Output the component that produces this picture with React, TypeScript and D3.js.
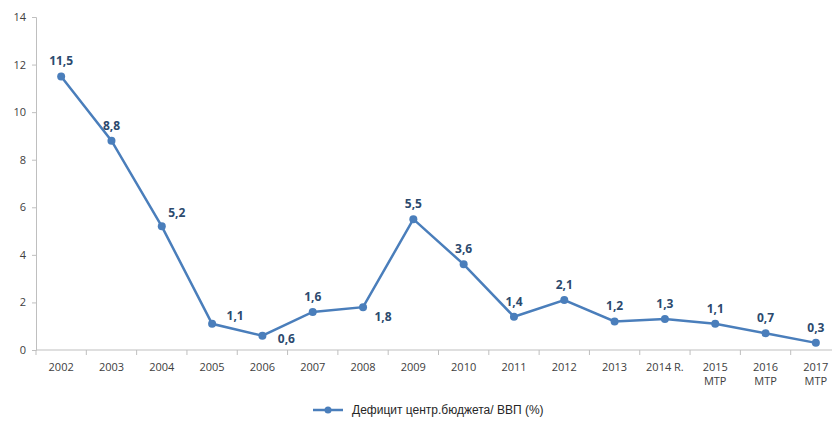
import React, { useEffect, useRef } from 'react';
import * as d3 from 'd3';

const years = ['2002', '2003', '2004', '2005', '2006', '2007', '2008', '2009', '2010', '2011', '2012', '2013', '2014 R.', '2015\nМТР', '2016\nМТР', '2017\nМТР'];
const deficit = [11.5, 8.8, 5.2, 1.1, 0.6, 1.6, 1.8, 5.5, 3.6, 1.4, 2.1, 1.2, 1.3, 1.1, 0.7, 0.3];
// where each data label sits relative to its point
const labelPos = ['top', 'top', 'topright', 'right', 'lowright', 'top', 'bottomright', 'top', 'top', 'top', 'top', 'top', 'top', 'top', 'top', 'top'];
const yTicks = [0, 2, 4, 6, 8, 10, 12, 14];
const seriesName = 'Дефицит центр.бюджета/ ВВП (%)';

const offsets: Record<string, [number, number]> = {
  top: [0, -11],
  topright: [15, -9],
  right: [23, -4],
  lowright: [24, 7],
  bottomright: [20, 14],
};

const App = () => {
  const ref = useRef<SVGSVGElement>(null);

  useEffect(() => {
    const svg = d3.select(ref.current);
    svg.selectAll('*').remove();
    const left = 36, right = 841, top = 17, bottom = 350;
    const lineColor = '#4a7ebb';
    const labelColor = '#2c4a6e';

    const x = d3.scaleBand().domain(years).range([left, right]);
    const y = d3.scaleLinear().domain([0, 14]).range([bottom, top]);

    // y axis
    const ya = svg.append('g').attr('transform', `translate(${left},0)`)
      .call(d3.axisLeft(y).tickValues(yTicks).tickSize(4).tickPadding(6));
    ya.select('.domain').attr('stroke', '#bfbfbf');
    ya.selectAll('line').attr('stroke', '#bfbfbf');
    ya.selectAll('text').attr('fill', '#404040').style('font-family', 'Open Sans').style('font-size', '11px');

    // x axis
    const xa = svg.append('g').attr('transform', `translate(0,${bottom})`);
    xa.append('line').attr('x1', left).attr('x2', right).attr('stroke', '#bfbfbf');
    const bounds = years.map(d => x(d)!).concat([right]);
    xa.selectAll('.tk').data(bounds).enter().append('line')
      .attr('x1', d => d).attr('x2', d => d).attr('y1', 0).attr('y2', 5).attr('stroke', '#bfbfbf');
    years.forEach(yr => {
      const t = xa.append('text')
        .attr('x', x(yr)! + x.bandwidth() / 2)
        .attr('y', 21)
        .attr('text-anchor', 'middle')
        .attr('fill', '#404040')
        .style('font-family', 'Open Sans')
        .style('font-size', '11px');
      yr.split('\n').forEach((s, i) => {
        t.append('tspan').attr('x', x(yr)! + x.bandwidth() / 2).attr('dy', i === 0 ? 0 : 14).text(s);
      });
    });

    const cx = (i: number) => x(years[i])! + x.bandwidth() / 2;
    const line = d3.line<number>().x((_, i) => cx(i)).y(d => y(d));
    svg.append('path').datum(deficit).attr('d', line).attr('fill', 'none')
      .attr('stroke', lineColor).attr('stroke-width', 2.5);
    svg.selectAll('.pt').data(deficit).enter().append('circle')
      .attr('cx', (_, i) => cx(i)).attr('cy', d => y(d)).attr('r', 4).attr('fill', lineColor);

    svg.selectAll('.lbl').data(deficit).enter().append('text')
      .attr('x', (_, i) => cx(i) + offsets[labelPos[i]][0])
      .attr('y', (d, i) => y(d) + offsets[labelPos[i]][1])
      .attr('text-anchor', 'middle')
      .attr('fill', labelColor)
      .style('font-family', 'Open Sans')
      .style('font-weight', 'bold')
      .style('font-size', '12px')
      .text(d => d.toString().replace('.', ','));

    // legend
    const lg = svg.append('g').attr('transform', 'translate(313,410)');
    lg.append('line').attr('x1', 0).attr('x2', 30).attr('stroke', lineColor).attr('stroke-width', 2.5);
    lg.append('circle').attr('cx', 15).attr('r', 3.5).attr('fill', lineColor);
    lg.append('text').attr('x', 39).attr('y', 4).attr('fill', '#262626')
      .style('font-family', 'Liberation Sans').style('font-size', '12px').text(seriesName);
  }, []);

  return (
    <svg ref={ref} width={832} height={423} style={{ position: 'absolute', left: 0, top: 0, background: '#fff' }} />
  );
};

export default App;
